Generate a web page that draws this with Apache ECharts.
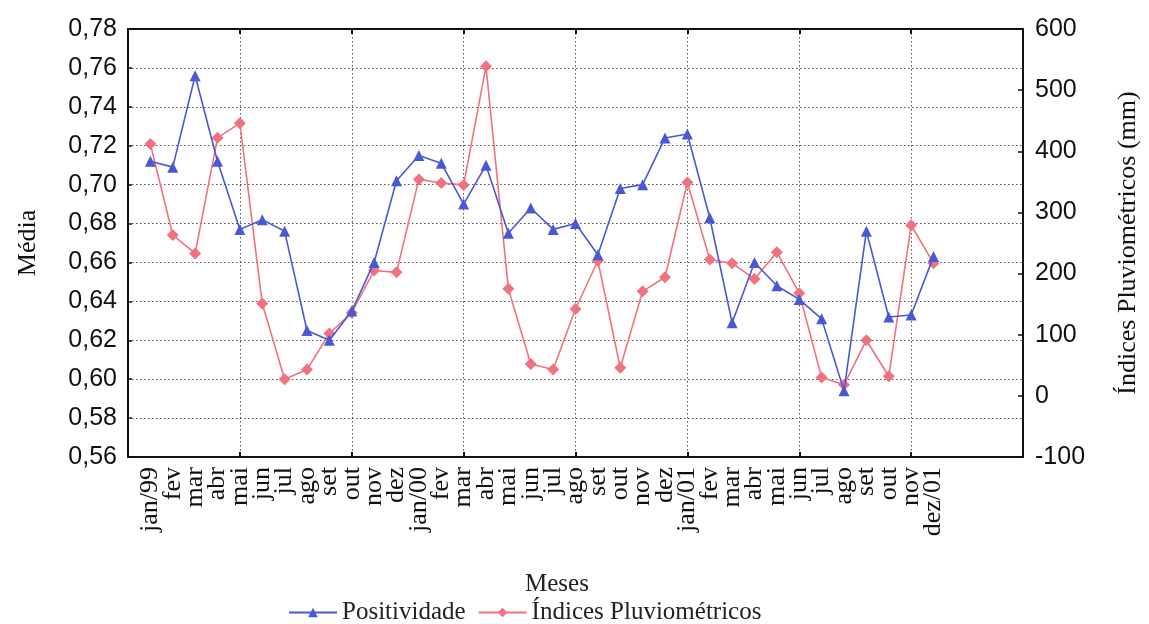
<!DOCTYPE html>
<html>
<head>
<meta charset="utf-8">
<script src="https://cdn.jsdelivr.net/npm/echarts@6/dist/echarts.min.js"></script>
<style>
html,body{margin:0;padding:0;background:#fff;}
#chart{width:1149px;height:624px;}
</style>
</head>
<body>
<div id="chart"></div>
<script>
const categories = ['jan/99','fev','mar','abr','mai','jun','jul','ago','set','out','nov','dez',
  'jan/00','fev','mar','abr','mai','jun','jul','ago','set','out','nov','dez',
  'jan/01','fev','mar','abr','mai','jun','jul','ago','set','out','nov','dez/01'];

const positividade = [0.712,0.709,0.756,0.712,0.677,0.682,0.676,0.625,0.620,0.635,0.660,0.702,
  0.715,0.711,0.690,0.710,0.675,0.688,0.677,0.680,0.664,0.698,0.700,0.724,
  0.726,0.683,0.629,0.660,0.648,0.641,0.631,0.594,0.676,0.632,0.633,0.663];

const pluviometricos = [412,263,233,422,446,151,27,43,102,136,205,202,
  354,348,345,539,175,52,43,142,221,46,171,194,
  349,223,217,191,235,168,30,18,91,32,279,217];

const leftTicks = {min:0.56, max:0.78, step:0.02};
const rightTicks = {min:-100, max:600, step:100};
const xRange = {min:0, max:40, step:5};

const BLUE = '#4a58d4';
const RED = '#f07280';
const AX = '#111';

const chart = echarts.init(document.getElementById('chart'), null, {renderer:'canvas'});

// label slots: 0 and 40 are empty end slots, 1..36 carry the month names
const labelPositions = [xRange.min].concat(categories.map((c,i)=>i+1), [xRange.max]);

const option = {
  animation:false,
  backgroundColor:'#fff',
  textStyle:{fontFamily:'Liberation Serif'},
  title:{
    text:'Meses', left:520, top:567,
    textStyle:{fontFamily:'Liberation Serif', fontSize:25, fontWeight:'normal', color:'#222'}
  },
  legend:{
    left:283, top:595, itemWidth:48, itemHeight:12, itemGap:12,
    textStyle:{fontFamily:'Liberation Serif', fontSize:25, color:'#222'},
    data:['Positividade','Índices Pluviométricos']
  },
  grid:{left:128, right:119, top:29, bottom:167},
  xAxis:[
    {
      type:'value', min:xRange.min, max:xRange.max, interval:xRange.step, position:'bottom',
      axisLine:{show:true, onZero:false, lineStyle:{color:AX, width:2}},
      axisTick:{show:true, inside:true, length:5, lineStyle:{color:AX, width:2}},
      splitLine:{show:true, lineStyle:{color:'#555', width:1, type:[1.5,2.5]}},
      axisLabel:{
        customValues: labelPositions,
        showMinLabel:false, showMaxLabel:false, hideOverlap:false,
        rotate:90, margin:10, fontSize:26, color:'#111', fontFamily:'Liberation Serif',
        formatter:function(v){ const i=Math.round(v)-1; return (i>=0 && i<categories.length)?categories[i]:''; }
      }
    },
    {
      type:'value', min:xRange.min, max:xRange.max, interval:xRange.step, position:'top',
      axisLine:{show:true, onZero:false, lineStyle:{color:AX, width:2}},
      axisTick:{show:true, inside:true, length:5, lineStyle:{color:AX, width:2}},
      splitLine:{show:false},
      axisLabel:{show:false}
    }
  ],
  yAxis:[
    {
      type:'value', min:leftTicks.min, max:leftTicks.max, interval:leftTicks.step, position:'left',
      name:'Média', nameLocation:'middle', nameGap:87,
      nameTextStyle:{fontFamily:'Liberation Serif', fontSize:26, color:'#111'},
      axisLine:{show:true, onZero:false, lineStyle:{color:AX, width:2}},
      axisTick:{show:true, inside:true, length:4, lineStyle:{color:AX, width:1.5}},
      splitLine:{show:true, lineStyle:{color:'#555', width:1, type:[1.5,2.5]}},
      axisLabel:{fontFamily:'Liberation Sans', fontSize:25, color:'#111', margin:11,
        formatter:function(v){ return v.toFixed(2).replace('.',','); }}
    },
    {
      type:'value', min:rightTicks.min, max:rightTicks.max, interval:rightTicks.step, position:'right',
      name:'Índices Pluviométricos (mm)', nameLocation:'middle', nameGap:92,
      nameTextStyle:{fontFamily:'Liberation Serif', fontSize:26, color:'#111'},
      axisLine:{show:true, onZero:false, lineStyle:{color:AX, width:2}},
      axisTick:{show:true, inside:true, length:5, lineStyle:{color:AX, width:1.5}},
      splitLine:{show:false},
      axisLabel:{fontFamily:'Liberation Sans', fontSize:25, color:'#111', margin:12}
    }
  ],
  series:[
    {
      name:'Positividade', type:'line', xAxisIndex:0, yAxisIndex:0,
      data: positividade.map((v,i)=>[i+1, v]),
      symbol:'triangle', symbolSize:11,
      lineStyle:{color:BLUE, width:1.6},
      itemStyle:{color:BLUE},
      z:3
    },
    {
      name:'Índices Pluviométricos', type:'line', xAxisIndex:0, yAxisIndex:1,
      data: pluviometricos.map((v,i)=>[i+1, v]),
      symbol:'diamond', symbolSize:12,
      lineStyle:{color:RED, width:1.6},
      itemStyle:{color:RED},
      z:2
    }
  ]
};
chart.setOption(option);
</script>
</body>
</html>
